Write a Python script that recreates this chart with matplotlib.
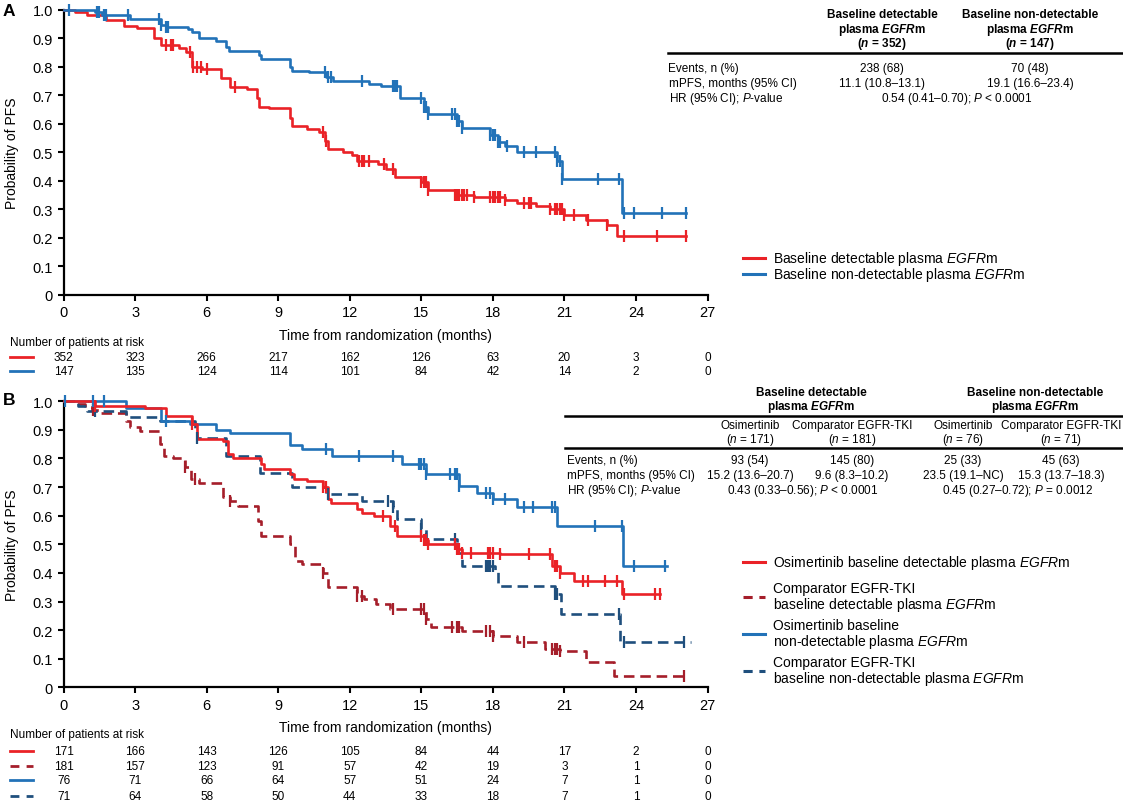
import numpy as np
import matplotlib
matplotlib.use("Agg")
import matplotlib.pyplot as plt
from matplotlib.lines import Line2D
from matplotlib import transforms

plt.rcParams['font.family'] = ['Liberation Sans', 'DejaVu Sans']
plt.rcParams['mathtext.fontset'] = 'custom'
plt.rcParams['mathtext.rm'] = 'Liberation Sans'
plt.rcParams['mathtext.it'] = 'Liberation Sans:italic'
plt.rcParams['mathtext.bf'] = 'Liberation Sans:bold'
plt.rcParams['mathtext.bfit'] = 'Liberation Sans:italic:bold'

# ---- data ----
months = [0, 3, 6, 9, 12, 15, 18, 21, 24, 27]
yticks = [0, 0.1, 0.2, 0.3, 0.4, 0.5, 0.6, 0.7, 0.8, 0.9, 1.0]
ytick_labels = ["0", "0.1", "0.2", "0.3", "0.4", "0.5", "0.6", "0.7", "0.8", "0.9", "1.0"]

# panel A: detectable plasma EGFRm
a_det_t = [0.5, 1.0, 1.8, 2.55, 3.1, 3.8, 4.1, 4.86, 5.15, 5.37, 5.8, 6.6, 7.0, 7.7, 8.1, 8.2,
           8.6, 9.5, 9.6, 10.2, 10.7, 10.95, 11.07, 11.7, 12.1, 12.3, 13.2, 13.5, 13.9, 15.0,
           15.3, 16.4, 17.2, 18.5, 19.0, 19.8, 20.4, 21.0, 21.9, 22.8, 23.2]
a_det_s = [0.99, 0.98, 0.963, 0.943, 0.935, 0.90, 0.875, 0.865, 0.85, 0.80, 0.79, 0.76, 0.73, 0.72,
           0.69, 0.66, 0.655, 0.62, 0.593, 0.58, 0.57, 0.54, 0.511, 0.50, 0.49, 0.47, 0.46, 0.44,
           0.415, 0.395, 0.368, 0.352, 0.342, 0.332, 0.322, 0.312, 0.30, 0.28, 0.262, 0.245, 0.205]
a_det_cens = [4.3, 4.5, 4.6, 5.3, 5.45, 5.6, 5.75, 6.0, 7.2, 10.9, 11.0, 12.4, 12.5, 12.6, 12.8,
              13.45, 13.8, 15.0, 15.1, 15.2, 15.3, 16.4, 16.5, 16.6, 16.7, 16.8, 16.9, 17.2, 17.9,
              18.0, 18.1, 18.2, 18.3, 18.5, 19.3, 19.5, 19.6, 20.4, 20.6, 20.7, 20.8, 20.9, 21.0,
              21.4, 22.0, 22.8, 23.5, 24.9, 26.1]
a_det_end = 26.1
a_det_risk = [352, 323, 266, 217, 162, 126, 63, 20, 3, 0]

# panel A: non-detectable plasma EGFRm
a_non_t = [1.3, 1.6, 2.8, 4.1, 4.3, 5.2, 5.4, 5.7, 6.4, 6.8, 6.95, 8.2, 8.3, 9.5, 9.6, 10.3, 11.0,
           11.3, 12.8, 13.3, 14.1, 15.1, 15.3, 16.5, 16.7, 17.9, 18.2, 18.5, 19.0, 20.7, 20.9, 23.4]
a_non_s = [0.99, 0.98, 0.967, 0.945, 0.937, 0.93, 0.92, 0.90, 0.89, 0.87, 0.855, 0.84, 0.825, 0.80,
           0.786, 0.78, 0.765, 0.75, 0.739, 0.731, 0.689, 0.66, 0.634, 0.61, 0.585, 0.56, 0.535,
           0.523, 0.502, 0.47, 0.406, 0.286]
a_non_cens = [0.25, 1.4, 1.5, 1.7, 1.8, 2.7, 4.0, 4.1, 4.3, 4.4, 10.95, 11.1, 11.2, 12.5, 13.8, 13.9,
              14.0, 15.0, 15.1, 15.2, 15.3, 16.3, 16.4, 16.5, 16.6, 16.7, 17.9, 18.0, 18.1, 18.2,
              18.3, 18.6, 19.3, 19.8, 20.6, 20.7, 20.8, 20.9, 22.4, 23.3, 23.5, 23.9, 25.1, 26.1]
a_non_end = 26.1
a_non_risk = [147, 135, 124, 114, 101, 84, 42, 14, 2, 0]

# panel B: osimertinib, detectable
b_osi_det_t = [1.3, 3.4, 4.3, 5.4, 5.6, 6.7, 6.9, 7.1, 8.3, 8.4, 9.5, 9.65, 10.2, 10.9, 11.1, 11.2,
               12.3, 12.5, 13.0, 13.7, 14.0, 15.1, 15.3, 16.5, 16.7, 18.3, 20.5, 20.8, 21.4, 23.4]
b_osi_det_s = [0.985, 0.975, 0.947, 0.92, 0.869, 0.86, 0.816, 0.80, 0.78, 0.765, 0.745, 0.73, 0.72,
               0.70, 0.66, 0.645, 0.625, 0.61, 0.60, 0.565, 0.53, 0.515, 0.50, 0.485, 0.47, 0.465,
               0.425, 0.40, 0.373, 0.326]
b_osi_det_cens = [1.3, 5.4, 10.9, 11.0, 13.4, 13.9, 15.0, 15.1, 15.2, 15.3, 16.4, 16.5, 16.6, 16.7,
                  17.1, 17.8, 17.9, 18.0, 18.3, 19.5, 20.4, 20.6, 20.7, 20.8, 21.8, 22.0, 22.7, 23.2,
                  23.5, 24.8, 25.0]
b_osi_det_end = 25.0
b_osi_det_risk = [171, 166, 143, 126, 105, 84, 44, 17, 2, 0]

# panel B: comparator EGFR-TKI, detectable
b_cmp_det_t = [0.5, 0.9, 1.2, 1.5, 2.6, 2.8, 3.2, 4.05, 4.2, 4.6, 5.1, 5.35, 5.7, 6.7, 7.0, 7.3,
               8.15, 8.3, 9.5, 9.7, 10.0, 10.9, 11.1, 12.3, 12.6, 13.1, 13.7, 15.2, 15.4, 16.7,
               18.0, 19.0, 20.2, 20.8, 21.9, 23.1]
b_cmp_det_s = [0.99, 0.98, 0.97, 0.96, 0.93, 0.91, 0.895, 0.85, 0.81, 0.80, 0.77, 0.73, 0.715,
               0.665, 0.65, 0.635, 0.58, 0.53, 0.50, 0.44, 0.43, 0.40, 0.35, 0.32, 0.31, 0.29,
               0.275, 0.24, 0.21, 0.198, 0.18, 0.157, 0.134, 0.128, 0.087, 0.041]
b_cmp_det_cens = [1.25, 5.1, 5.5, 7.0, 10.9, 12.3, 12.5, 13.8, 15.0, 15.1, 15.2, 16.3, 16.5, 16.6,
                  17.7, 17.9, 18.0, 19.3, 20.5, 20.6, 20.7, 20.8, 26.0]
b_cmp_det_end = 26.2
b_cmp_det_risk = [181, 157, 123, 91, 57, 42, 19, 3, 1, 0]

# panel B: osimertinib, non-detectable
b_osi_non_t = [2.6, 4.1, 5.3, 6.4, 7.0, 9.5, 10.0, 11.25, 14.2, 15.2, 16.6, 17.35, 18.0, 19.0,
               20.7, 23.45]
b_osi_non_s = [0.977, 0.93, 0.92, 0.90, 0.888, 0.848, 0.834, 0.81, 0.78, 0.745, 0.705, 0.68, 0.66,
               0.63, 0.565, 0.425]
b_osi_non_cens = [0.05, 1.25, 1.7, 4.3, 11.0, 12.4, 13.8, 14.9, 15.0, 15.1, 15.2, 16.2, 16.4, 16.5,
                  16.6, 17.7, 17.9, 18.0, 18.5, 19.3, 19.7, 20.5, 20.6, 22.3, 23.4, 23.9, 25.2]
b_osi_non_end = 25.3
b_osi_non_risk = [76, 71, 66, 64, 57, 51, 24, 7, 1, 0]

# panel B: comparator EGFR-TKI, non-detectable
b_cmp_non_t = [0.6, 1.0, 2.6, 4.05, 5.5, 5.6, 6.8, 8.25, 9.6, 11.0, 12.5, 13.8, 14.0, 15.0, 15.2,
               16.5, 16.7, 18.1, 18.2, 20.6, 20.85, 23.35]
b_cmp_non_s = [0.985, 0.965, 0.945, 0.93, 0.90, 0.87, 0.81, 0.75, 0.70, 0.675, 0.652, 0.63, 0.59,
               0.555, 0.52, 0.47, 0.425, 0.405, 0.355, 0.325, 0.255, 0.16]
b_cmp_non_cens = [1.3, 5.6, 11.1, 13.6, 13.8, 15.0, 15.2, 16.4, 17.7, 17.8, 17.9, 18.0, 20.6, 20.7,
                  23.3, 23.5, 26.0]
b_cmp_non_end = 26.3
b_cmp_non_risk = [71, 64, 58, 50, 44, 33, 18, 7, 1, 0]

RED = '#ea2227'
DARKRED = '#a51e2a'
BLUE = '#2272b8'
NAVY = '#1f4f7d'
DASH = (4, 2.2)

W, H = 1123, 804


def fx(px):
    return px / W


def fy(py):
    return 1 - py / H


def km_curve(ax, times, surv, cens, end, color, dashed=False):
    x = np.concatenate([[0.0], times, [end]])
    y = np.concatenate([[1.0], surv, [surv[-1]]])
    line, = ax.step(x, y, where='post', color=color, lw=1.9, clip_on=False, zorder=3)
    if dashed:
        line.set_dashes(DASH)
    levels = np.concatenate([[1.0], surv])
    cy = levels[np.searchsorted(times, cens, side='right')]
    ax.plot(cens, cy, ls='none', marker='|', ms=8.5, mew=1.6, color=color, clip_on=False, zorder=4)


def style_axes(ax):
    ax.set_xlim(0, 27)
    ax.set_ylim(0, 1.0)
    ax.set_xticks(months)
    ax.set_yticks(yticks)
    ax.set_yticklabels(ytick_labels)
    for side in ['top', 'right']:
        ax.spines[side].set_visible(False)
    for side in ['left', 'bottom']:
        ax.spines[side].set_linewidth(1.6)
    ax.tick_params(direction='out', length=4.5, width=1.5, labelsize=10.5, pad=3)
    ax.set_xlabel("Time from randomization (months)", fontsize=10, labelpad=6)
    ax.set_ylabel("Probability of PFS", fontsize=10, va='center')
    ax.yaxis.set_label_coords(-0.08, 0.5)


def risk_table(ax, header_y, rows):
    fig.text(fx(10), fy(header_y), "Number of patients at risk", fontsize=8.5, va='center', ha='left')
    tr = transforms.blended_transform_factory(ax.transData, fig.transFigure)
    for row_y, color, dashed, counts in rows:
        ln = Line2D([fx(10), fx(33)], [fy(row_y)] * 2, color=color, lw=2, transform=fig.transFigure)
        if dashed:
            ln.set_dashes((3.2, 2.6))
        fig.add_artist(ln)
        for m, n in zip(months, counts):
            ax.text(m, fy(row_y), str(n), transform=tr, ha='center', va='center', fontsize=8.5)


def hline(x0, x1, y, lw=1.8):
    fig.add_artist(Line2D([fx(x0), fx(x1)], [fy(y)] * 2, color='black', lw=lw, transform=fig.transFigure))


def txt(x, y, s, ha='center', **kw):
    fig.text(fx(x), fy(y), s, ha=ha, va='center', fontsize=8.5, **kw)


fig = plt.figure(figsize=(11.23, 8.04), dpi=100)

# ---------------- panel A ----------------
axA = fig.add_axes([fx(63.5), fy(296), fx(707.5) - fx(63.5), fy(10.5) - fy(296)])
style_axes(axA)
km_curve(axA, a_det_t, a_det_s, a_det_cens, a_det_end, RED)
km_curve(axA, a_non_t, a_non_s, a_non_cens, a_non_end, BLUE)
fig.text(fx(9), fy(11), "A", fontsize=12.5, fontweight='bold', ha='center', va='center')

risk_table(axA, 343, [(357.7, RED, False, a_det_risk), (371.7, BLUE, False, a_non_risk)])

# legend A
for ly, col, lab in [(259, RED, r"Baseline detectable plasma $\mathit{EGFR}$m"),
                     (274.5, BLUE, r"Baseline non-detectable plasma $\mathit{EGFR}$m")]:
    fig.add_artist(Line2D([fx(743), fx(765)], [fy(ly)] * 2, color=col, lw=2.2, transform=fig.transFigure))
    fig.text(fx(773), fy(ly), lab, fontsize=10, va='center', ha='left')

# table A
for cx, n in [(882, 352), (1030, 147)]:
    txt(cx, 15.2, "Baseline detectable" if n == 352 else "Baseline non-detectable", fontweight='bold')
    txt(cx, 29.5, r"plasma $\mathbfit{EGFR}$m", fontweight='bold')
    txt(cx, 43.8, r"($\mathbfit{n}$ = %d)" % n, fontweight='bold')
hline(668, 1123, 54.3)
txt(668, 69.3, "Events, n (%)", ha='left')
txt(669, 83.8, "mPFS, months (95% CI)", ha='left')
txt(669, 99, r"HR (95% CI); $\mathit{P}$-value", ha='left')
txt(882, 69.3, "238 (68)")
txt(1030, 69.3, "70 (48)")
txt(882, 83.8, "11.1 (10.8–13.1)")
txt(1030, 83.8, "19.1 (16.6–23.4)")
txt(957, 99, r"0.54 (0.41–0.70); $\mathit{P}$ < 0.0001")

# ---------------- panel B ----------------
axB = fig.add_axes([fx(63.5), fy(688.3), fx(707.5) - fx(63.5), fy(402.3) - fy(688.3)])
style_axes(axB)
km_curve(axB, b_cmp_det_t, b_cmp_det_s, b_cmp_det_cens, b_cmp_det_end, DARKRED, dashed=True)
km_curve(axB, b_cmp_non_t, b_cmp_non_s, b_cmp_non_cens, b_cmp_non_end, NAVY, dashed=True)
km_curve(axB, b_osi_non_t, b_osi_non_s, b_osi_non_cens, b_osi_non_end, BLUE)
km_curve(axB, b_osi_det_t, b_osi_det_s, b_osi_det_cens, b_osi_det_end, RED)
fig.text(fx(9), fy(401), "B", fontsize=12.5, fontweight='bold', ha='center', va='center')

risk_table(axB, 735, [(752.3, RED, False, b_osi_det_risk), (766.7, DARKRED, True, b_cmp_det_risk),
                      (781, BLUE, False, b_osi_non_risk), (796.7, NAVY, True, b_cmp_non_risk)])

# legend B
legB = [(563, RED, False, r"Osimertinib baseline detectable plasma $\mathit{EGFR}$m"),
        (598, DARKRED, True, "Comparator EGFR-TKI\n" + r"baseline detectable plasma $\mathit{EGFR}$m"),
        (635, BLUE, False, "Osimertinib baseline\n" + r"non-detectable plasma $\mathit{EGFR}$m"),
        (672, NAVY, True, "Comparator EGFR-TKI\n" + r"baseline non-detectable plasma $\mathit{EGFR}$m")]
for ly, col, dashed, lab in legB:
    ln = Line2D([fx(743), fx(765)], [fy(ly)] * 2, color=col, lw=2.2, transform=fig.transFigure)
    if dashed:
        ln.set_dashes((3, 2.2))
    fig.add_artist(ln)
    fig.text(fx(773), fy(ly), lab, fontsize=10, va='center', ha='left', linespacing=1.05)

# table B
for cx, head in [(811, "Baseline detectable"), (1035, "Baseline non-detectable")]:
    txt(cx, 393, head, fontweight='bold')
    txt(cx, 406.7, r"plasma $\mathbfit{EGFR}$m", fontweight='bold')
hline(565, 1123, 416.7)
cols_b = [(750, "Osimertinib", 171), (852, "Comparator EGFR-TKI", 181),
          (963, "Osimertinib", 76), (1061, "Comparator EGFR-TKI", 71)]
for cx, arm, n in cols_b:
    txt(cx, 426, arm)
    txt(cx, 439.5, r"($\mathit{n}$ = %d)" % n)
hline(565, 1123, 448.5)
txt(567, 461.5, "Events, n (%)", ha='left')
txt(567, 476.5, "mPFS, months (95% CI)", ha='left')
txt(567, 491.5, r"HR (95% CI); $\mathit{P}$-value", ha='left')
for cx, ev, mp in zip([c[0] for c in cols_b], ["93 (54)", "145 (80)", "25 (33)", "45 (63)"],
                      ["15.2 (13.6–20.7)", "9.6 (8.3–10.2)", "23.5 (19.1–NC)", "15.3 (13.7–18.3)"]):
    txt(cx, 461.5, ev)
    txt(cx, 476.5, mp)
txt(803, 491.5, r"0.43 (0.33–0.56); $\mathit{P}$ < 0.0001")
txt(1018, 491.5, r"0.45 (0.27–0.72); $\mathit{P}$ = 0.0012")

fig.savefig("out.png", dpi=100)
